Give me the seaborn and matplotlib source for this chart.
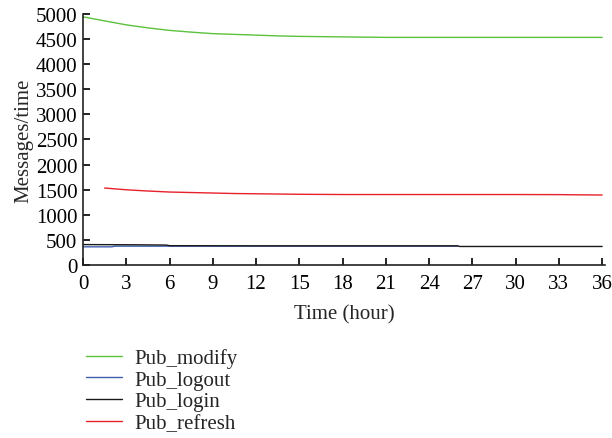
import matplotlib
matplotlib.use('Agg')
import matplotlib.pyplot as plt
import seaborn as sns
import pandas as pd

hours_modify = [0, 1.5, 3, 4.5, 6, 7.5, 9, 10.5, 12, 13.5, 15, 18, 21, 24, 27, 30, 33, 36]
pub_modify = [4950, 4870, 4790, 4730, 4680, 4645, 4615, 4600, 4585, 4570, 4560, 4550, 4540, 4540, 4540, 4540, 4540, 4540]

hours_refresh = [1.5, 3, 4.5, 6, 7.5, 9, 10.5, 12, 15, 18, 21, 24, 27, 30, 33, 36]
pub_refresh = [1530, 1495, 1470, 1450, 1440, 1430, 1420, 1415, 1405, 1400, 1400, 1400, 1400, 1400, 1398, 1390]

hours_login = [0, 2, 4, 5.8, 6, 12, 18, 24, 26, 26.1, 30, 36]
pub_login = [400, 398, 395, 390, 378, 375, 375, 375, 375, 362, 362, 362]

hours_logout = [0, 2, 2.2, 8, 14, 20, 26]
pub_logout = [355, 355, 368, 368, 368, 368, 368]

series = [
    ('Pub_modify', hours_modify, pub_modify, '#5cc13c'),
    ('Pub_logout', hours_logout, pub_logout, '#3f5fb0'),
    ('Pub_login', hours_login, pub_login, '#1a1a1a'),
    ('Pub_refresh', hours_refresh, pub_refresh, '#e8202a'),
]

sns.set_style('ticks')
plt.rcParams['font.family'] = ['Liberation Serif', 'DejaVu Serif']
plt.rcParams['font.size'] = 15

fig = plt.figure(figsize=(6.12, 4.39), dpi=100)
ax = fig.add_axes([0.1356, 0.395, 0.853, 0.570])

for name, x, y, color in series:
    df = pd.DataFrame({'hour': x, 'msg': y})
    sns.lineplot(data=df, x='hour', y='msg', ax=ax, color=color,
                 linewidth=1.0, label=name)

ax.set_xlim(0, 36.2)
ax.set_ylim(0, 5000)
ax.set_xticks(range(0, 37, 3))
ax.set_yticks(range(0, 5001, 500))
ax.set_xlabel('Time (hour)', fontsize=15, labelpad=8)
ax.set_ylabel('Messages/time', fontsize=15, labelpad=2)
ax.tick_params(direction='in', length=5, width=1.2, labelsize=15, colors='black')
ax.tick_params(axis='x', pad=7)
ax.tick_params(axis='y', pad=4)
sns.despine(ax=ax)
for s in ['left', 'bottom']:
    ax.spines[s].set_linewidth(1.2)
    ax.spines[s].set_color('#222222')

ax.legend(loc='upper left', bbox_to_anchor=(-0.01, -0.30), frameon=False,
          handlelength=1.7, handletextpad=0.6, labelspacing=0.1, fontsize=15,
          borderaxespad=0)

fig.savefig('out.png', dpi=100)
